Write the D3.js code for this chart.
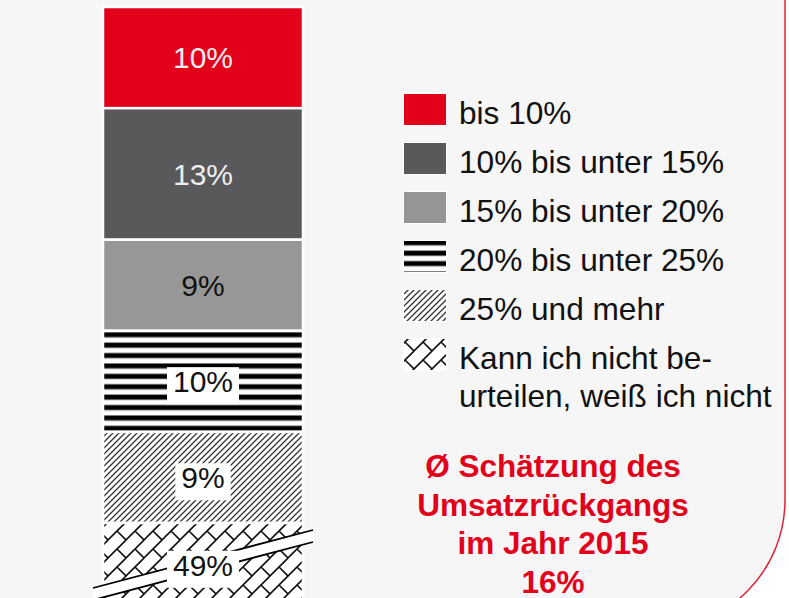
<!DOCTYPE html>
<html>
<head>
<meta charset="utf-8">
<script src="https://cdn.jsdelivr.net/npm/d3@7"></script>
<style>
  html, body { margin: 0; padding: 0; background: #ffffff; }
  svg { display: block; font-family: "Liberation Sans", Arial, sans-serif; }
</style>
</head>
<body>
<svg id="chart"></svg>
<script>
// data
const categories = ["bis 10%", "10% bis unter 15%", "15% bis unter 20%", "20% bis unter 25%",
                    "25% und mehr", "Kann ich nicht be-|urteilen, weiß ich nicht"];
const values = [10, 13, 9, 10, 9, 49];
const valueLabels = ["10%", "13%", "9%", "10%", "9%", "49%"];
const meanLines = ["Ø Schätzung des", "Umsatzrückgangs", "im Jahr 2015", "16%"];

const W = 789, H = 598;
const svg = d3.select("#chart").attr("width", W).attr("height", H);

// panel with the rounded red border on the right
svg.append("path")
    .attr("d", "M-10,-10 H785 V500 A129,129 0 0 1 656,629 H-10 Z")
    .attr("fill", "#f6f6f6")
    .attr("stroke", "#e2233b")
    .attr("stroke-width", 1.5);

const fills = ["#e2001a", "#59595b", "#979797", "url(#stripes)", "url(#diag)", "url(#brick)"];

// patterns
const defs = svg.append("defs");

function stripes(id, y0) {
  let p = defs.append("pattern").attr("id", id)
      .attr("patternUnits", "userSpaceOnUse")
      .attr("width", 10).attr("height", 10.4).attr("y", y0);
  p.append("rect").attr("width", 10).attr("height", 10.4).attr("fill", "#fff");
  p.append("rect").attr("y", 0).attr("width", 10).attr("height", 6).attr("fill", "#999");
  p.append("rect").attr("y", 0.8).attr("width", 10).attr("height", 4.4).attr("fill", "#000");
}

function diag(id) {
  let p = defs.append("pattern").attr("id", id)
      .attr("patternUnits", "userSpaceOnUse")
      .attr("width", 6).attr("height", 6);
  p.append("rect").attr("width", 6).attr("height", 6).attr("fill", "#fff");
  p.append("path").attr("d", "M0,6 L6,0 M-1,1 L1,-1 M5,7 L7,5")
      .attr("stroke", "#333").attr("stroke-width", 1.3);
}

function brick(id) {
  let p = defs.append("pattern").attr("id", id)
      .attr("patternUnits", "userSpaceOnUse")
      .attr("width", 18).attr("height", 18);
  p.append("rect").attr("width", 18).attr("height", 18).attr("fill", "#fff");
  p.append("path")
      .attr("d", "M0,18 L18,0 M-2,2 L2,-2 M16,20 L20,16 M9,9 L18,18 M-9,9 L0,18 M9,-9 L18,0")
      .attr("stroke", "#111").attr("stroke-width", 1.6).attr("fill", "none");
}

// scales
const x = d3.scaleBand().domain(["2015"]).range([103, 303]).padding(0);
const y = d3.scaleLinear().domain([0, 51]).range([7, 523]);

let cum = 0;
const segs = values.map((v, i) => {
  const s = {i: i, v: v, y0: cum, y1: cum + v, label: valueLabels[i]};
  cum += v;
  return s;
});

stripes("stripes", y(segs[3].y0) + 1);
stripes("stripesL", 0);
diag("diag");
brick("brick");

const bar = svg.append("g");

bar.selectAll("rect.seg")
    .data(segs)
    .enter()
    .append("rect")
    .attr("class", "seg")
    .attr("x", x("2015"))
    .attr("width", x.bandwidth())
    .attr("y", d => y(d.y0))
    .attr("height", d => y(d.y1) - y(d.y0))
    .attr("fill", d => fills[d.i])
    .attr("stroke", "#ffffff")
    .attr("stroke-width", 2.5);

// axis break band across the truncated last segment
const bx0 = x("2015") - 10, bx1 = x("2015") + x.bandwidth() + 10;
const brk = svg.append("g");
brk.append("path")
    .attr("d", `M${bx0},588 L${bx1},530 L${bx1},542 L${bx0},600 Z`)
    .attr("fill", "#fff");
brk.append("path")
    .attr("d", `M${bx0},588 L${bx1},530 M${bx0},600 L${bx1},542`)
    .attr("stroke", "#000").attr("stroke-width", 1.8);

// value labels
const labelY = d => Math.min((y(d.y0) + y(d.y1)) / 2, H - 33);
const lab = svg.append("g").selectAll("g")
    .data(segs)
    .enter()
    .append("g");

lab.append("text")
    .attr("x", x("2015") + x.bandwidth() / 2)
    .attr("y", labelY)
    .attr("dy", "0.36em")
    .attr("text-anchor", "middle")
    .attr("font-size", 30)
    .attr("fill", d => d.i < 2 ? "#eeeeee" : "#111")
    .text(d => d.label);

lab.filter(d => d.i >= 3).each(function() {
  const g = d3.select(this);
  const bb = g.select("text").node().getBBox();
  g.insert("rect", "text")
      .attr("x", bb.x - 6)
      .attr("y", bb.y + 2)
      .attr("width", bb.width + 12)
      .attr("height", bb.height + 4)
      .attr("fill", "#fff");
});

// legend
const legendFills = ["#e2001a", "#59595b", "#959595", "url(#stripesL)", "url(#diag)", "url(#brick)"];
const ly = d3.scaleLinear().domain([0, 1]).range([124, 173]);

const leg = svg.append("g").selectAll("g")
    .data(categories)
    .enter()
    .append("g")
    .attr("transform", (d, i) => "translate(0," + ly(i) + ")");

leg.append("rect")
    .attr("x", 403.5).attr("y", -30.5)
    .attr("width", 43).attr("height", 32)
    .attr("fill", (d, i) => legendFills[i])
    .attr("stroke", "#fff")
    .attr("stroke-width", 1);

leg.append("text")
    .attr("x", 459)
    .attr("font-size", 31.6)
    .attr("fill", "#111")
    .selectAll("tspan")
    .data(d => d.split("|"))
    .enter()
    .append("tspan")
    .attr("x", 459)
    .attr("dy", (d, j) => j === 0 ? 0 : 38)
    .text(d => d);

// average estimate
svg.append("text")
    .attr("text-anchor", "middle")
    .attr("font-size", 31.5)
    .attr("font-weight", "bold")
    .attr("fill", "#e2001a")
    .selectAll("tspan")
    .data(meanLines)
    .enter()
    .append("tspan")
    .attr("x", 553)
    .attr("y", (d, i) => 477 + i * 38.5)
    .text(d => d);
</script>
</body>
</html>
